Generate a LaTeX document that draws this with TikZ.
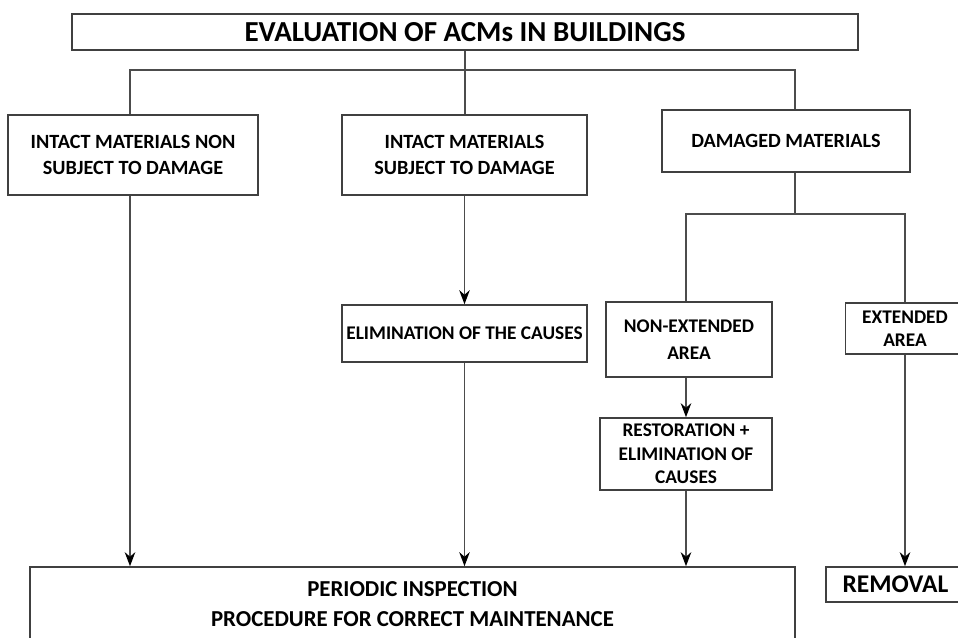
\documentclass[tikz,border=0pt]{standalone}
\usepackage{fontspec}
\setmainfont{Carlito}
\usetikzlibrary{arrows.meta, positioning}

\begin{document}
\begin{tikzpicture}[x=0.02cm, y=-0.02cm,
    box/.style={draw=black!75, line width=0.9pt, align=center, font=\bfseries\fontsize{11.5}{15}\selectfont, inner sep=2pt},
    line/.style={draw=black!70, line width=0.8pt},
    arrow/.style={line, -{Stealth[length=8pt, width=6pt, black]}}
]
\clip (0,0) rectangle (958,637);

% Title
\node[box, minimum width=15.72cm, minimum height=0.72cm, font=\bfseries\fontsize{16.5}{18}\selectfont] (title) at (465,32) {EVALUATION OF ACMs IN BUILDINGS};

% First level
\node[box, minimum width=5cm, minimum height=1.6cm] (nonsub) at (133,155) {INTACT MATERIALS NON\\SUBJECT TO DAMAGE};
\node[box, minimum width=4.9cm, minimum height=1.6cm] (intact) at (464.5,155) {INTACT MATERIALS\\SUBJECT TO DAMAGE};
\node[box, minimum width=4.96cm, minimum height=1.24cm] (damaged) at (786,141) {DAMAGED MATERIALS};

% Second level
\node[box, minimum width=4.9cm, minimum height=1.14cm, font=\bfseries\fontsize{11}{15}\selectfont] (elim) at (464.5,333.5) {ELIMINATION OF THE CAUSES};
\node[box, line width=1.4pt, minimum width=3.32cm, minimum height=1.5cm, font=\bfseries\fontsize{11}{15}\selectfont] (nonext) at (689,339.5) {NON-EXTENDED\\AREA};
\node[box, minimum width=2.38cm, minimum height=1.02cm, font=\bfseries\fontsize{11}{13}\selectfont] (extended) at (905,328.5) {EXTENDED\\AREA};
\node[box, minimum width=3.44cm, minimum height=1.44cm, font=\bfseries\fontsize{11}{13.5}\selectfont] (restore) at (686,454) {RESTORATION +\\ELIMINATION OF\\CAUSES};

% Bottom
\node[box, minimum width=15.3cm, minimum height=1.48cm, font=\bfseries\fontsize{13}{17}\selectfont] (periodic) at (412.5,604) {PERIODIC INSPECTION\\PROCEDURE FOR CORRECT MAINTENANCE};
\node[box, minimum width=2.78cm, minimum height=0.7cm, font=\bfseries\fontsize{14.5}{16}\selectfont] (removal) at (895.5,584.5) {REMOVAL};

% Branches from the title
\coordinate (busL) at (130,70);
\coordinate (busR) at (795,70);
\draw[line] (title.south) -- (title.south |- intact.north);
\draw[line] (nonsub.north -| busL) -- (busL) -- (busR) -- (busR |- damaged.north);

% Branches from damaged materials
\coordinate (fork) at (795,214);
\draw[line] (busR |- damaged.south) -- (fork);
\draw[line] (nonext.north -| restore.north) |- (fork) -| (extended.north);

% Arrows
\draw[arrow] (intact.south) -- (elim.north);
\draw[arrow] (nonext.south -| restore.north) -- (restore.north);
\draw[arrow] (nonsub.south -| busL) -- (busL |- periodic.north);
\draw[arrow] (elim.south) -- (elim.south |- periodic.north);
\draw[arrow] (restore.south) -- (restore.south |- periodic.north);
\draw[arrow] (extended.south) -- (extended.south |- removal.north);

\end{tikzpicture}
\end{document}
